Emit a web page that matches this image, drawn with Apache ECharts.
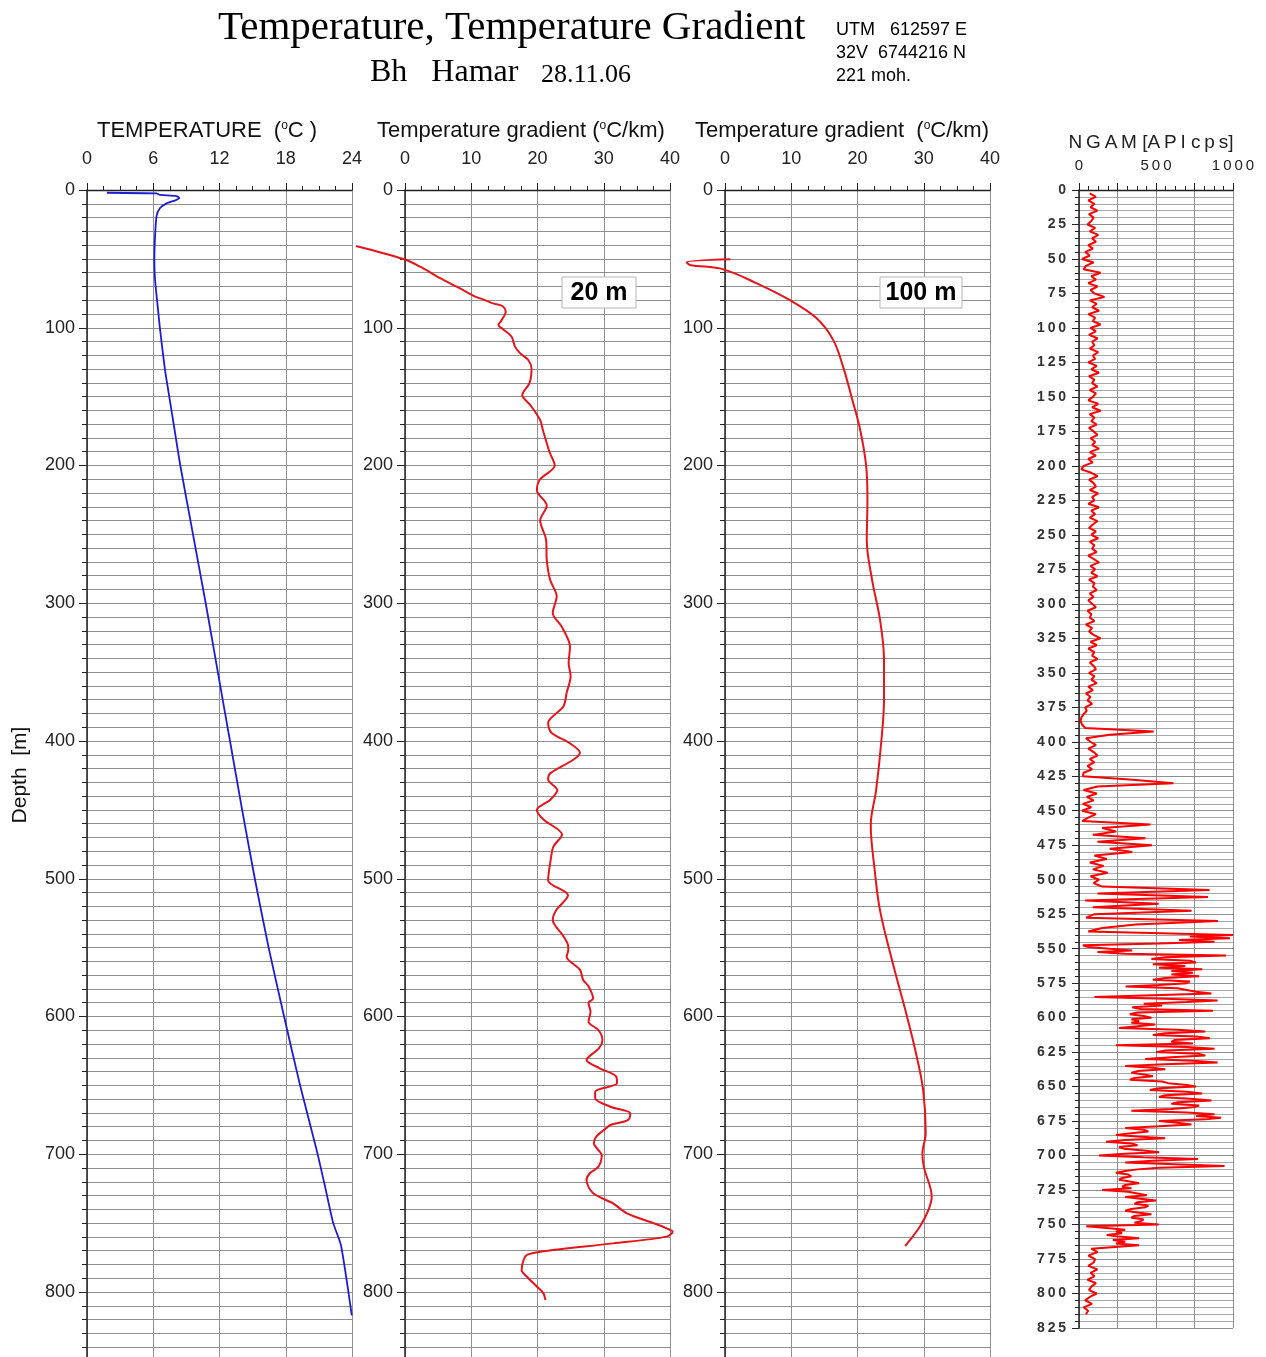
<!DOCTYPE html>
<html>
<head>
<meta charset="utf-8">
<script src="https://cdn.jsdelivr.net/npm/echarts@6/dist/echarts.min.js"></script>
<style>html,body{margin:0;padding:0;background:#fff}#c{width:1266px;height:1357px}</style>
</head>
<body>
<div id="c"></div>
<script>
// ---------- DATA ----------
// Temperature log (depth m, °C)
const tempDepth = [2, 2.5, 3.6, 4.4, 6, 7.5, 9.7, 13.3, 19, 34, 51, 65, 82, 100, 131, 150, 175, 200, 250, 300, 350, 400, 450, 500, 550, 600, 650, 697, 723.5, 750, 766, 817];
const tempValue = [1.8, 6.3, 6.6, 8.1, 8.35, 8.0, 7.2, 6.6, 6.3, 6.16, 6.1, 6.16, 6.37, 6.6, 7.07, 7.45, 7.95, 8.45, 9.6, 10.75, 11.85, 12.95, 14.05, 15.2, 16.45, 17.85, 19.3, 20.8, 21.56, 22.3, 23.0, 23.98];

// Temperature gradient, 20 m window (depth m, °C/km)
const grad20Depth = [40.6,50.3,55.7,64,71.4,77.4,79.4,82.3,84.2,88.3,94.4,98,101,106.5,113.7,118.6,123.4,129.5,140,149,156,167,174,190,200,210,218,229,240,254,268.6,283,295,307,317,331.5,343.6,353,365,375,387,394,401.7,408.5,413.6,423.5,428,435.6,442.8,450,457,468,476.7,486,501,512,523,530,541,548,551.7,556.6,566,573.5,578,587,590,596.5,603.8,609.8,617,623,631.6,637.6,643.7,648.5,654.6,659.4,665.5,670.3,675,678.8,681,687,692,697,700.5,709,713.8,718.7,728.4,735.6,742.9,750,753.8,756.2,759.8,764.7,770.7,773.1,776.8,784,788.9,796,801,805.8];
const grad20Value = [-7.4,-0.1,2.3,5.3,8.3,10.6,11.8,13.3,14.7,15.2,14.6,14.1,14.8,16.1,16.6,17.4,18.6,19.1,18.8,17.7,18.9,20.4,20.8,21.8,22.6,20.4,19.9,21.4,20.4,21.3,21.4,21.9,22.9,22.3,23.65,24.9,24.7,25.0,24.4,23.9,21.6,22.1,24.9,26.4,25.4,21.9,21.6,23.0,21.9,19.9,20.9,23.7,22.4,22.0,21.6,24.6,22.8,22.3,23.8,24.6,24.65,24.4,26.4,26.9,27.7,28.4,27.7,28.0,27.7,29.2,29.8,29.3,27.4,29.4,31.9,32.0,28.7,28.7,31.0,34.0,33.7,31.0,30.4,28.9,28.5,29.2,29.7,29.2,27.9,27.4,28.4,31.4,33.5,37.5,39.5,40.4,39.5,31.4,20.4,18.4,17.9,17.6,18.4,19.9,20.9,21.2];

// Temperature gradient, 100 m window (depth m, °C/km)
const grad100Depth = [50.3,52.5,54.4,57.6,67.8,80,93,109,129.5,152,174,200,225,254,283,312,341,370,400,436,461,494,523,559,595,624,653,684.8,699.3,709,730.8,740.5,752.6,766.6];
const grad100Value = [0.8,-5.8,-5.3,-0.25,4.8,9.8,13.8,16.35,17.9,19.2,20.4,21.3,21.5,21.4,22.2,23.4,24.0,24.0,23.6,22.8,22.0,22.6,23.4,25.2,27.2,28.7,29.9,30.3,29.8,30.0,31.2,30.7,29.4,27.2];

// NGAM gamma log (API cps), read in three depth runs
// run A: every 2.5 m from 2.5 m to 537.5 m
const ngamA = [
 70,110,60,100,75,120,65,95,80,55,
 105,70,125,85,110,60,90,40,70,20,
 95,45,30,140,80,110,60,120,75,100,
 165,70,115,85,130,60,105,90,140,75,
 110,65,120,85,100,70,125,90,105,60,
 115,80,130,65,100,85,120,70,110,90,
 60,125,85,140,70,100,80,115,65,95,
 120,75,105,85,130,70,110,60,90,30,
 15,80,120,65,95,110,70,125,85,100,
 60,130,80,105,70,120,90,65,110,80,
 125,70,100,85,115,60,95,130,75,105,
 80,120,65,100,90,115,70,95,60,85,
 110,55,80,70,100,45,85,65,95,140,
 75,115,60,100,85,120,70,95,110,65,
 100,80,115,60,90,45,75,55,85,40,
 50,30,
 15,10,20,40,485,200,45,75,
 110,60,95,120,70,100,55,85,30,25,
 350,613,120,30,115,50,95,25,80,20,
 110,60,20,464,150,240,90,432,120,474,
 200,346,100,180,70,160,90,186,75,130,
 95,150,848,120,838,40,517,90,731,100,
 47,902,368,150,60
];
// run B: every 1.25 m from 540 m to 765 m
const ngamB = [
 1000,720,980,650,880,520,25,60,
 200,346,120,300,955,560,470,720,
 760,480,690,520,800,600,740,600,
 780,560,480,720,700,520,303,640,
 650,760,860,480,100,560,900,700,
 420,540,345,400,870,380,330,420,
 470,340,390,340,495,380,260,640,
 820,560,480,760,850,620,600,740,
 240,700,880,560,500,780,820,600,
 430,740,900,560,300,480,560,380,
 340,420,480,360,330,540,580,700,
 760,520,460,700,800,560,520,720,
 860,640,600,780,740,600,340,700,
 880,760,923,820,520,640,730,520,
 300,420,450,340,240,380,560,300,
 175,340,380,260,290,420,520,300,
 130,420,773,480,300,620,945,520,
 380,300,240,320,340,280,260,330,
 390,300,280,340,150,320,380,440,
 300,400,500,380,360,450,430,340,
 300,380,470,360,340,420,400,360,
 517,47,180,300,240,280,180,260,
 390,220,300,240,390
];
// run C: every 2.5 m from 767.5 m to 815 m
const ngamC = [80,120,60,105,95,60,120,75,100,55,110,80,65,115,70,40,85,30,60,45];

// Axis ticks
const tempTicks = [0, 6, 12, 18, 24];
const gradTicks = [0, 10, 20, 30, 40];
const ngamTicks = [0, 500, 1000];

// ---------- CHART ----------
const SANS = '"Liberation Sans", Arial, sans-serif';
const SERIF = '"Liberation Serif", "Times New Roman", serif';
const PXM = 1.3775;
const GPX = 265 / 40;
const gridLine = '#8f8f8f';

function pairs(xs, ys) { return xs.map((d, i) => [ys[i], d]); }
function run(vals, start, step) { return vals.map((v, i) => [v, start + i * step]); }
const ngamData = run(ngamA, 2.5, 2.5).concat(run(ngamB, 540, 1.25), run(ngamC, 767.5, 2.5));
const spaced = s => String(s).split('').join('\u2009');

function xAxisFor(gi, min, max, interval, labels, opts) {
  return Object.assign({
    gridIndex: gi, type: 'value', position: 'top', min: min, max: max, interval: interval,
    axisLine: { show: true, onZero: false, lineStyle: { color: '#222', width: 1.3 } },
    axisTick: { show: true, length: 7, lineStyle: { color: '#222', width: 1 } },
    minorTick: { show: true, splitNumber: 4, length: 4, lineStyle: { color: '#222', width: 1 } },
    axisLabel: { fontSize: 18, color: '#222', fontFamily: SANS, margin: 22,
      formatter: v => labels.indexOf(v) >= 0 ? String(v) : '' },
    splitLine: { show: true, lineStyle: { color: gridLine, width: 1 } }
  }, opts || {});
}
function yAxisFor(gi) {
  return {
    gridIndex: gi, type: 'value', inverse: true, min: 0, max: 900, interval: 100,
    axisLine: { show: true, onZero: false, lineStyle: { color: '#222', width: 1.5 } },
    axisTick: { show: true, length: 8, lineStyle: { color: '#222' } },
    minorTick: { show: true, splitNumber: 10, length: 5, lineStyle: { color: '#222' } },
    axisLabel: { fontSize: 18, color: '#222', fontFamily: SANS, margin: 12 },
    splitLine: { show: true, lineStyle: { color: gridLine, width: 1 } },
    minorSplitLine: { show: true, lineStyle: { color: gridLine, width: 1 } }
  };
}
function hiddenX(gi, min, max) { return { gridIndex: gi, type: 'value', min: min, max: max, show: false }; }
function hiddenY(gi) { return { gridIndex: gi, type: 'value', inverse: true, min: 0, max: 900, show: false }; }

const H = 900 * PXM;
const OB = { outerBoundsMode: 'none', containLabel: false };
const option = {
  animation: false,
  backgroundColor: '#fff',
  grid: [
    Object.assign({ left: 87, width: 265, top: 190, height: H }, OB),
    Object.assign({ left: 405, width: 265, top: 190, height: H }, OB),
    Object.assign({ left: 725, width: 265, top: 190, height: H }, OB),
    Object.assign({ left: 1079, width: 154, top: 190, height: 825 * 1.3794 }, OB),
    // overlay grids (same scale, wider x range) so curves can run past the frame as in the original
    Object.assign({ left: 405 - 10 * GPX, width: 60 * GPX, top: 190, height: H }, OB),
    Object.assign({ left: 725 - 10 * GPX, width: 60 * GPX, top: 190, height: H }, OB)
  ],
  xAxis: [
    xAxisFor(0, 0, 24, 6, tempTicks),
    xAxisFor(1, 0, 40, 10, gradTicks),
    xAxisFor(2, 0, 40, 10, gradTicks),
    xAxisFor(3, 0, 1000, 250, ngamTicks, {
      axisLabel: { fontSize: 15, color: '#222', fontFamily: SANS, margin: 17,
        formatter: v => ngamTicks.indexOf(v) >= 0 ? spaced(v) : '' }
    }),
    hiddenX(4, -10, 50),
    hiddenX(5, -10, 50)
  ],
  yAxis: [
    yAxisFor(0), yAxisFor(1), yAxisFor(2),
    {
      gridIndex: 3, type: 'value', inverse: true, min: 0, max: 825, interval: 25,
      axisLine: { show: true, onZero: false, lineStyle: { color: '#222', width: 1.5 } },
      axisTick: { show: true, length: 7, lineStyle: { color: '#222' } },
      minorTick: { show: true, splitNumber: 5, length: 4, lineStyle: { color: '#222' } },
      axisLabel: { fontSize: 14, fontWeight: 'bold', color: '#333', fontFamily: SANS, margin: 13, formatter: v => spaced(v) },
      splitLine: { show: true, lineStyle: { color: gridLine, width: 1 } },
      minorSplitLine: { show: true, lineStyle: { color: '#a8a8a8', width: 1 } }
    },
    hiddenY(4), hiddenY(5)
  ],
  series: [
    { type: 'line', xAxisIndex: 0, yAxisIndex: 0, data: pairs(tempDepth, tempValue), showSymbol: false,
      smooth: 0.2, clip: false, lineStyle: { color: '#1c1cd0', width: 1.8 } },
    { type: 'line', xAxisIndex: 4, yAxisIndex: 4, data: pairs(grad20Depth, grad20Value), showSymbol: false,
      smooth: 0.3, clip: false, lineStyle: { color: '#e4151c', width: 2 } },
    { type: 'line', xAxisIndex: 5, yAxisIndex: 5, data: pairs(grad100Depth, grad100Value), showSymbol: false,
      smooth: 0.35, clip: false, lineStyle: { color: '#e4151c', width: 2 } },
    { type: 'line', xAxisIndex: 3, yAxisIndex: 3, data: ngamData, showSymbol: false,
      clip: false, lineStyle: { color: '#ff0000', width: 2 } }
  ],
  graphic: [
    { type: 'text', x: 218, y: 28, style: { text: 'Temperature, Temperature Gradient', font: '41px ' + SERIF, fill: '#000', align: 'left', verticalAlign: 'middle', textAlign: 'left', textVerticalAlign: 'middle' } },
    { type: 'text', x: 370, y: 73, style: { text: 'Bh   Hamar', font: '32px ' + SERIF, fill: '#000', align: 'left', verticalAlign: 'middle', textAlign: 'left', textVerticalAlign: 'middle' } },
    { type: 'text', x: 541, y: 75, style: { text: '28.11.06', font: '26px ' + SERIF, fill: '#000', align: 'left', verticalAlign: 'middle', textAlign: 'left', textVerticalAlign: 'middle' } },
    { type: 'text', x: 836, y: 30, style: { text: 'UTM   612597 E', font: '18px ' + SANS, fill: '#000', align: 'left', verticalAlign: 'middle', textAlign: 'left', textVerticalAlign: 'middle' } },
    { type: 'text', x: 836, y: 53, style: { text: '32V  6744216 N', font: '18px ' + SANS, fill: '#000', align: 'left', verticalAlign: 'middle', textAlign: 'left', textVerticalAlign: 'middle' } },
    { type: 'text', x: 836, y: 76, style: { text: '221 moh.', font: '18px ' + SANS, fill: '#000', align: 'left', verticalAlign: 'middle', textAlign: 'left', textVerticalAlign: 'middle' } },
    { type: 'text', x: 97, y: 131, style: { text: '{a|TEMPERATURE  (}{s|o}{a|C )}', rich: { a: { fontSize: 22, fontFamily: SANS, fill: '#111', color: '#111' }, s: { fontSize: 12, fontFamily: SANS, color: '#111', fill: '#111', verticalAlign: 'top' } }, align: 'left', verticalAlign: 'middle', textAlign: 'left', textVerticalAlign: 'middle' } },
    { type: 'text', x: 377, y: 131, style: { text: '{a|Temperature gradient (}{s|o}{a|C/km)}', rich: { a: { fontSize: 22, fontFamily: SANS, fill: '#111', color: '#111' }, s: { fontSize: 12, fontFamily: SANS, color: '#111', fill: '#111', verticalAlign: 'top' } }, align: 'left', verticalAlign: 'middle', textAlign: 'left', textVerticalAlign: 'middle' } },
    { type: 'text', x: 695, y: 131, style: { text: '{a|Temperature gradient  (}{s|o}{a|C/km)}', rich: { a: { fontSize: 22, fontFamily: SANS, fill: '#111', color: '#111' }, s: { fontSize: 12, fontFamily: SANS, color: '#111', fill: '#111', verticalAlign: 'top' } }, align: 'left', verticalAlign: 'middle', textAlign: 'left', textVerticalAlign: 'middle' } },
    { type: 'text', x: 1151, y: 143, style: { text: spaced('NGAM') + ' [' + spaced('API') + ' ' + spaced('cps') + ']', font: '19px ' + SANS, fill: '#222', align: 'center', verticalAlign: 'middle', textAlign: 'center', textVerticalAlign: 'middle' } },
    { type: 'text', x: 20, y: 775, rotation: Math.PI / 2, style: { text: 'Depth  [m]', font: '21px ' + SANS, fill: '#111', align: 'center', verticalAlign: 'middle', textAlign: 'center', textVerticalAlign: 'middle' } },
    { type: 'rect', shape: { x: 562, y: 277, width: 74, height: 31 }, style: { fill: '#fff', stroke: '#b5b5b5', lineWidth: 1 }, z: 100 },
    { type: 'text', x: 599, y: 293, z: 101, style: { text: '20 m', font: 'bold 25px ' + SANS, fill: '#000', align: 'center', verticalAlign: 'middle', textAlign: 'center', textVerticalAlign: 'middle' } },
    { type: 'rect', shape: { x: 880, y: 277, width: 82, height: 31 }, style: { fill: '#fff', stroke: '#b5b5b5', lineWidth: 1 }, z: 100 },
    { type: 'text', x: 921, y: 293, z: 101, style: { text: '100 m', font: 'bold 25px ' + SANS, fill: '#000', align: 'center', verticalAlign: 'middle', textAlign: 'center', textVerticalAlign: 'middle' } }
  ]
};
const chart = echarts.init(document.getElementById('c'), null, { renderer: 'canvas' });
chart.setOption(option);
</script>
</body>
</html>
